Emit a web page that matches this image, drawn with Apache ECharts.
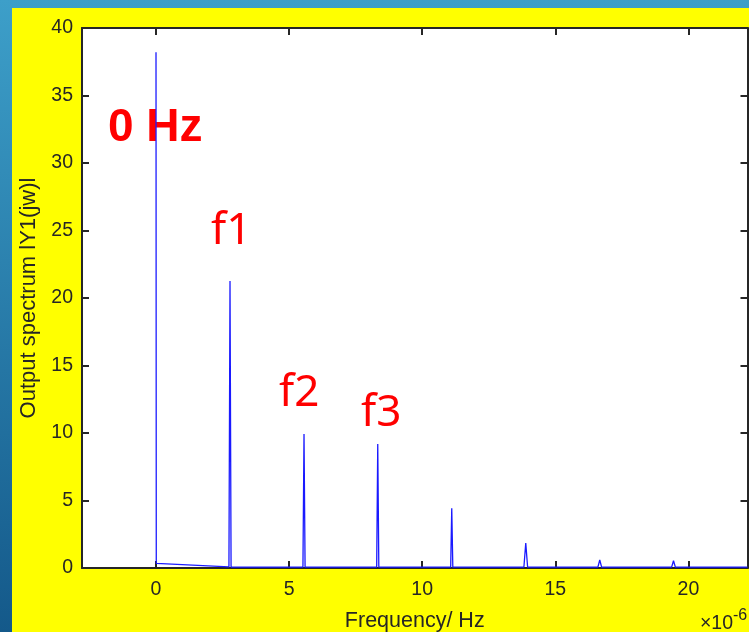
<!DOCTYPE html>
<html>
<head>
<meta charset="utf-8">
<script src="https://cdn.jsdelivr.net/npm/echarts@6/dist/echarts.min.js"></script>
<style>
  html, body { margin: 0; padding: 0; width: 749px; height: 632px; overflow: hidden;
    background: linear-gradient(to bottom, #3d9fc9, #14598a); }
  #main { position: absolute; left: 12px; top: 8px; width: 737px; height: 624px; background: #ffff00; }
</style>
</head>
<body>
<div id="main"></div>
<script>
  // frequency in units of 1e-6 Hz
  var freqs = [0, 0.01, 2.74, 2.78, 2.82, 5.52, 5.56, 5.60, 8.29, 8.33, 8.37,
               11.07, 11.11, 11.15, 13.82, 13.89, 13.96, 16.60, 16.67, 16.74,
               19.37, 19.44, 19.51, 22.22];
  // output spectrum |Y1(jw)|
  var mags = [38.2, 0.35, 0.08, 21.26, 0.07, 0.06, 9.93, 0.06, 0.06, 9.19, 0.06,
              0.06, 4.43, 0.06, 0.06, 1.84, 0.06, 0.06, 0.59, 0.06,
              0.06, 0.54, 0.06, 0.06];
  var xRange = [-2.78, 22.22];
  var yTicks = [0, 40, 5]; // min, max, step

  var points = freqs.map(function (f, i) { return [f, mags[i]]; });

  var txt = '#262626';
  var font = 'Liberation Sans';

  var myChart = echarts.init(document.getElementById('main'));

  function xAxisCfg(pos, labels) {
    return {
      type: 'value',
      position: pos,
      min: xRange[0],
      max: xRange[1],
      splitNumber: 5,
      splitLine: { show: false },
      axisLine: { show: true, onZero: false, lineStyle: { color: txt, width: 2 } },
      axisTick: { show: true, inside: true, length: 7, lineStyle: { color: txt, width: 2 } },
      axisLabel: {
        show: labels, color: txt, fontSize: 19.5, fontFamily: font, margin: 12,
        showMinLabel: false, showMaxLabel: false,
        formatter: function (v) {
          return Math.abs(v - Math.round(v / 5) * 5) < 1e-6 ? String(Math.round(v)) : '';
        }
      }
    };
  }
  function yAxisCfg(pos, labels) {
    return {
      type: 'value',
      position: pos,
      min: yTicks[0],
      max: yTicks[1],
      interval: yTicks[2],
      splitLine: { show: false },
      axisLine: { show: true, onZero: false, lineStyle: { color: txt, width: 2 } },
      axisTick: { show: true, inside: true, length: 7, lineStyle: { color: txt, width: 2 } },
      axisLabel: { show: labels, color: txt, fontSize: 19.5, fontFamily: font, margin: 9 }
    };
  }

  var xBottom = xAxisCfg('bottom', true);
  xBottom.name = 'Frequency/ Hz';
  xBottom.nameLocation = 'middle';
  xBottom.nameGap = 42;
  xBottom.nameTextStyle = { color: txt, fontSize: 21.5, fontFamily: font };

  var yLeft = yAxisCfg('left', true);
  yLeft.name = 'Output spectrum lY1(jw)l';
  yLeft.nameLocation = 'middle';
  yLeft.nameGap = 39;
  yLeft.nameTextStyle = { color: txt, fontSize: 22, fontFamily: font };

  function note(text, x, y, size, weight, family) {
    return { type: 'text', x: x, y: y, style: {
      text: text, fill: '#ff0000', fontSize: size, fontWeight: weight, fontFamily: family,
      verticalAlign: 'middle', align: 'left' } };
  }

  myChart.setOption({
    animation: false,
    grid: { left: 70, top: 20, right: 1.5, bottom: 64, show: true, backgroundColor: '#ffffff', borderWidth: 0,
            containLabel: false, outerBoundsMode: 'none' },
    xAxis: [xBottom, xAxisCfg('top', false)],
    yAxis: [yLeft, yAxisCfg('right', false)],
    series: [{
      type: 'line',
      xAxisIndex: 0,
      yAxisIndex: 0,
      data: points,
      symbol: 'none',
      clip: true,
      lineStyle: { color: '#1a1aff', width: 1.3 }
    }],
    graphic: [
      note('0 Hz', 96, 120.5, 46, 'bold', 'Liberation Sans'),
      note('f1', 199, 223.7, 44, 'normal', 'Noto Sans'),
      note('f2', 267, 385.5, 44, 'normal', 'Noto Sans'),
      note('f3', 349, 405.3, 44, 'normal', 'Noto Sans'),
      { type: 'text', x: 721, y: 626, style: { text: '\u00d710', fill: txt, fontSize: 19.5, fontFamily: font, verticalAlign: 'bottom', align: 'right' } },
      { type: 'text', x: 721, y: 600, style: { text: '-6', fill: txt, fontSize: 16, fontFamily: font, verticalAlign: 'top', align: 'left' } }
    ]
  });
</script>
</body>
</html>
